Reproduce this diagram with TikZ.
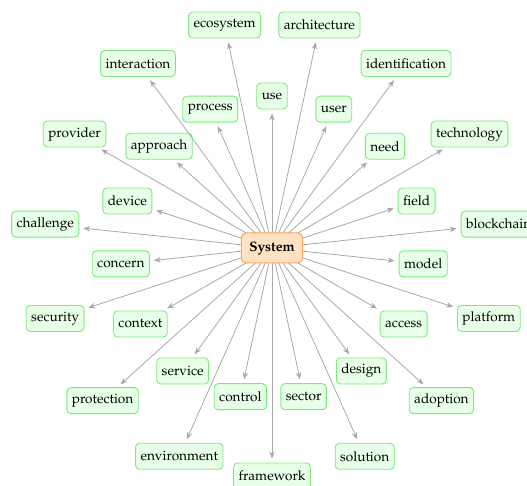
\documentclass[tikz,border=0pt]{standalone}
\usepackage[T1]{fontenc}
\usepackage{mathpazo}
\usetikzlibrary{calc,arrows.meta}
\definecolor{leafline}{RGB}{125,232,125}
\definecolor{leaffill}{RGB}{232,255,232}
\definecolor{rootline}{RGB}{250,170,90}
\definecolor{rootfill}{RGB}{255,225,196}
\definecolor{edgegray}{RGB}{168,168,168}
\tikzset{
  leaf/.style={draw=leafline, fill=leaffill, line width=0.9pt, rounded corners=4pt,
    minimum height=26pt, inner xsep=5pt, inner ysep=2pt,
    font=\fontsize{13.6}{16}\selectfont},
  root/.style={draw=rootline, fill=rootfill, line width=1pt, rounded corners=5pt,
    minimum height=30pt, inner xsep=8pt,
    font=\fontsize{13.6}{16}\selectfont\bfseries},
  link/.style={draw=edgegray, line width=0.8pt, shorten >=4pt,
    -{Stealth[length=7pt,width=5.5pt]}}
}
\begin{document}
\begin{tikzpicture}[x=1pt,y=-1pt]
\useasboundingbox (0,0) rectangle (527,486);
\coordinate (c) at (272,248);
% inner ring, r = 152
\foreach \n/\a in {use/90, user/66, need/42, field/18, model/-6, access/-30,
  design/-54, sector/-78, control/-102, service/-126, context/-150,
  concern/-174, device/162, approach/138, process/114}{
  \node[leaf] (\n) at ($(c)+(\a:152pt)$) {\n};
}
% outer ring, r = 228
\foreach \n/\a in {ecosystem/102, architecture/78, identification/54,
  technology/30, blockchain/6, platform/-18, adoption/-42, solution/-66,
  framework/-90, environment/-114, protection/-138, security/-162,
  challenge/174, provider/150, interaction/126}{
  \node[leaf] (\n) at ($(c)+(\a:228pt)$) {\n};
}
\foreach \n in {use, user, need, field, model, access, design, sector, control,
  service, context, concern, device, approach, process, ecosystem, architecture,
  identification, technology, blockchain, platform, adoption, solution,
  framework, environment, protection, security, challenge, provider, interaction}{
  \draw[link] (c) -- (\n);
}
\node[root] (sys) at (c) {System};
\end{tikzpicture}
\end{document}
